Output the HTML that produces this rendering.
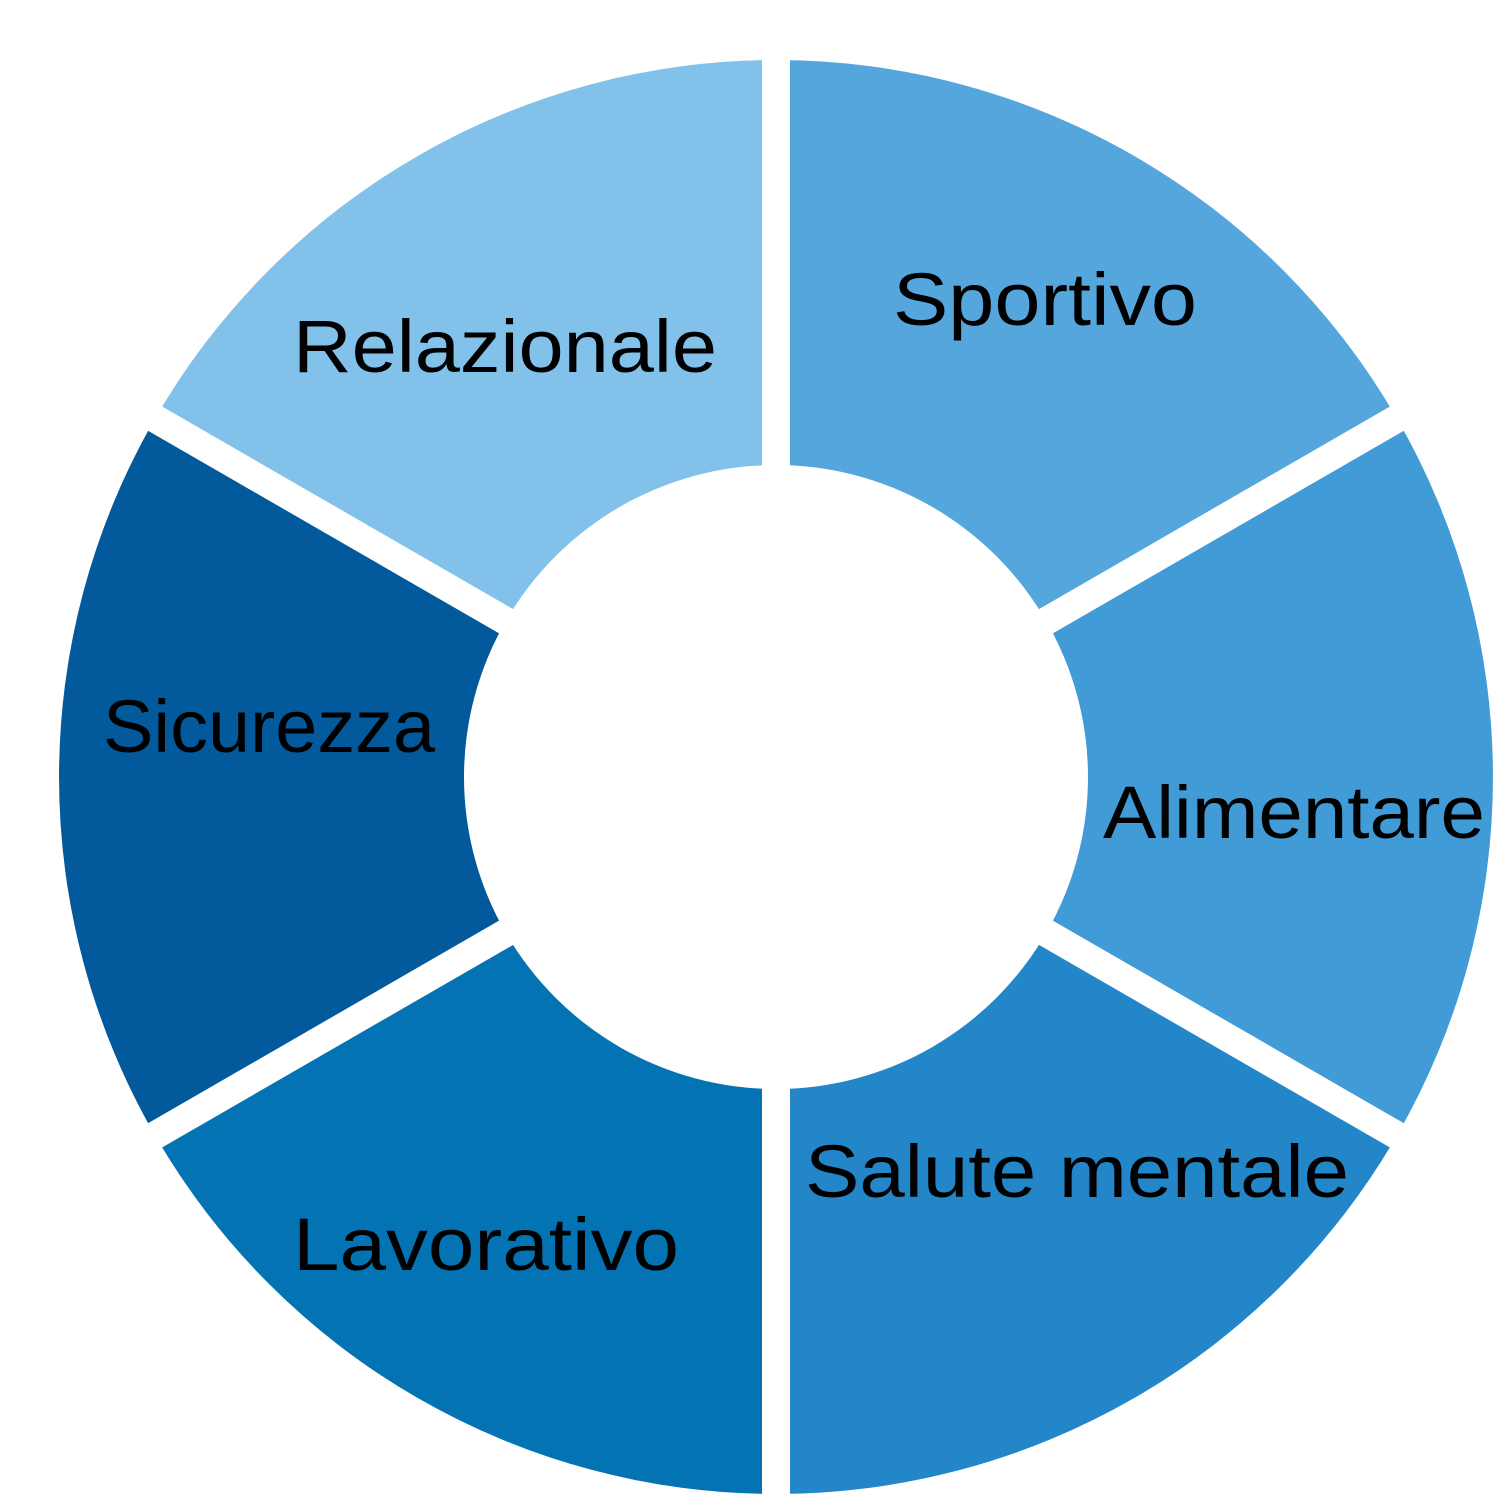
<!DOCTYPE html>
<html><head><meta charset="utf-8"><style>html,body{margin:0;padding:0;background:#fff}svg{display:block}</style></head>
<body>
<svg width="1500" height="1500" viewBox="0 0 1500 1500" xmlns="http://www.w3.org/2000/svg">
<path d="M776 60 A717 717 0 0 1 1396.9 418.5 L1046.2 621 A312 312 0 0 0 776 465 Z" fill="#55A6DC"/>
<path d="M1396.9 418.5 A717 717 0 0 1 1396.9 1135.5 L1046.2 933 A312 312 0 0 0 1046.2 621 Z" fill="#409BD7"/>
<path d="M1396.9 1135.5 A717 717 0 0 1 776 1494 L776 1089 A312 312 0 0 0 1046.2 933 Z" fill="#2386C8"/>
<path d="M776 1494 A717 717 0 0 1 155.1 1135.5 L505.8 933 A312 312 0 0 0 776 1089 Z" fill="#0473B3"/>
<path d="M155.1 1135.5 A717 717 0 0 1 155.1 418.5 L505.8 621 A312 312 0 0 0 505.8 933 Z" fill="#025A9C"/>
<path d="M155.1 418.5 A717 717 0 0 1 776 60 L776 465 A312 312 0 0 0 505.8 621 Z" fill="#82C2EA"/>
<g stroke="#fff" stroke-width="28">
<line x1="776" y1="777" x2="776" y2="0"/>
<line x1="776" y1="777" x2="776" y2="1500"/>
<line x1="776" y1="777" x2="1476" y2="373"/>
<line x1="776" y1="777" x2="1476" y2="1181"/>
<line x1="776" y1="777" x2="76" y2="373"/>
<line x1="776" y1="777" x2="76" y2="1181"/>
</g>
<g font-family="Liberation Sans, sans-serif" font-size="74" fill="#000">
<text x="293" y="372" textLength="424" lengthAdjust="spacingAndGlyphs">Relazionale</text>
<text x="893" y="325" textLength="304" lengthAdjust="spacingAndGlyphs">Sportivo</text>
<text x="1103" y="838" textLength="382" lengthAdjust="spacingAndGlyphs">Alimentare</text>
<text x="103" y="752" textLength="332" lengthAdjust="spacingAndGlyphs">Sicurezza</text>
<text x="805" y="1197" textLength="544" lengthAdjust="spacingAndGlyphs">Salute mentale</text>
<text x="293" y="1270" textLength="386" lengthAdjust="spacingAndGlyphs">Lavorativo</text>
</g>
</svg>
</body></html>
